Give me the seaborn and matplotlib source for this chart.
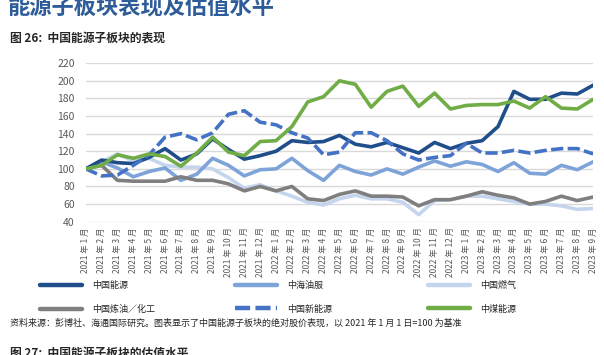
"""
China energy sub-sector performance (index, 2021-01-01 = 100).
"""
import pandas as pd
import seaborn as sns
import matplotlib.pyplot as plt
from matplotlib.lines import Line2D

sns.set_style("white")
plt.rcParams['font.family'] = ['Noto Sans CJK SC', 'DejaVu Sans']

# x categories: monthly, 2021-1 .. 2023-9
months = [f"{y} 年 {m} 月" for y in (2021, 2022, 2023) for m in range(1, 13)][:33]

china_energy = [100, 110, 107, 106, 113, 123, 110, 117, 134, 122, 111, 115, 120, 132, 130, 131, 138,
                128, 125, 130, 124, 118, 130, 123, 129, 132, 148, 188, 179, 179, 186, 185, 195]
cosl = [100, 108, 101, 91, 97, 101, 87, 94, 112, 104, 92, 99, 100, 112, 98, 87, 104,
        97, 93, 100, 94, 102, 109, 103, 108, 105, 97, 107, 95, 94, 104, 99, 108]
gas = [100, 108, 117, 109, 112, 104, 102, 102, 100, 90, 78, 82, 75, 69, 62, 59, 66,
       70, 66, 66, 62, 48, 64, 65, 69, 69, 66, 63, 60, 60, 58, 54, 55]
refining = [100, 104, 87, 86, 86, 86, 91, 87, 87, 83, 75, 80, 75, 80, 66, 64, 71,
            75, 69, 69, 68, 58, 65, 65, 69, 74, 70, 67, 60, 63, 69, 64, 68]
new_energy = [100, 92, 93, 104, 116, 136, 140, 133, 141, 162, 166, 153, 150, 141, 135, 116, 119,
              141, 141, 132, 117, 110, 113, 115, 129, 118, 118, 121, 118, 121, 123, 123, 117]
china_coal = [100, 104, 116, 112, 117, 114, 103, 118, 136, 119, 115, 131, 132, 148, 176, 182, 200,
              196, 170, 188, 194, 171, 186, 168, 172, 173, 173, 177, 169, 182, 169, 168, 179]

series_names = ["中国能源", "中海油服", "中国燃气", "中国炼油／化工", "中国新能源", "中煤能源"]
series_values = [china_energy, cosl, gas, refining, new_energy, china_coal]
colors = {"中国能源": "#1F4E8A", "中海油服": "#7EA3D8", "中国燃气": "#C5D5EE",
          "中国炼油／化工": "#7F7F7F", "中国新能源": "#4472C4", "中煤能源": "#70AD47"}
styles = {name: "-" for name in series_names}
styles["中国新能源"] = (0, (3.4, 1.2))

df = pd.concat(
    [pd.DataFrame({"idx": range(len(months)), "value": v, "series": n})
     for n, v in zip(series_names, series_values)],
    ignore_index=True,
)

fig = plt.figure(figsize=(6.04, 3.55), dpi=100)
ax = fig.add_axes([0.142, 0.3755, 0.840, 0.4465])

# draw order: lighter lines first
draw_order = ["中国燃气", "中海油服", "中国炼油／化工", "中国能源", "中国新能源", "中煤能源"]
for name in draw_order:
    sub = df[df.series == name]
    sns.lineplot(x=sub["idx"], y=sub["value"], color=colors[name], linewidth=2.6,
                 linestyle=styles[name], ax=ax, legend=False)

ax.set_xlim(0, len(months) - 1)
ax.set_ylim(40, 220)
ax.set_yticks(range(40, 221, 20))
ax.set_xticks(range(len(months)))
ax.set_xticklabels(months, rotation=90, fontsize=6, color="#595959")
ax.tick_params(axis="y", labelsize=7.5, labelcolor="#595959", length=0, pad=8)
ax.tick_params(axis="x", length=0, pad=4)
ax.set_xlabel("")
ax.set_ylabel("")
ax.grid(axis="y", color="#D9D9D9", linewidth=1.0)
ax.set_axisbelow(True)
for s in ax.spines.values():
    s.set_visible(False)

# legend: three columns placed as in the report
legend_cols = [["中国能源", "中国炼油／化工"], ["中海油服", "中国新能源"], ["中国燃气", "中煤能源"]]
legend_x = [40 / 604, 235 / 604, 428 / 604]
for names, lx in zip(legend_cols, legend_x):
    handles = [Line2D([], [], color=colors[n], linewidth=3.2, linestyle=styles[n]) for n in names]
    fig.legend(handles, names, loc="upper left", bbox_to_anchor=(lx, 1 - 281 / 355),
               frameon=False, fontsize=6.5, handlelength=4.7, handletextpad=1.1,
               labelspacing=1.6, borderpad=0, borderaxespad=0)

fig.text(8 / 604, 1 - 14 / 355, "能源子板块表现及估值水平", fontsize=16, fontweight="bold",
         color="#2E5C99", va="baseline")
fig.text(10 / 604, 1 - 38 / 355, "图 26:  中国能源子板块的表现", fontsize=8.5, fontweight="bold",
         va="center")
fig.text(10 / 604, 1 - 323 / 355,
         "资料来源：彭博社、海通国际研究。图表显示了中国能源子板块的绝对股价表现，以 2021 年 1 月 1 日=100 为基准",
         fontsize=6.5, va="center")
fig.text(10 / 604, 1 - 347 / 355, "图 27:  中国能源子板块的估值水平", fontsize=8.5, fontweight="bold",
         va="top")

fig.savefig("out.png", dpi=100)
